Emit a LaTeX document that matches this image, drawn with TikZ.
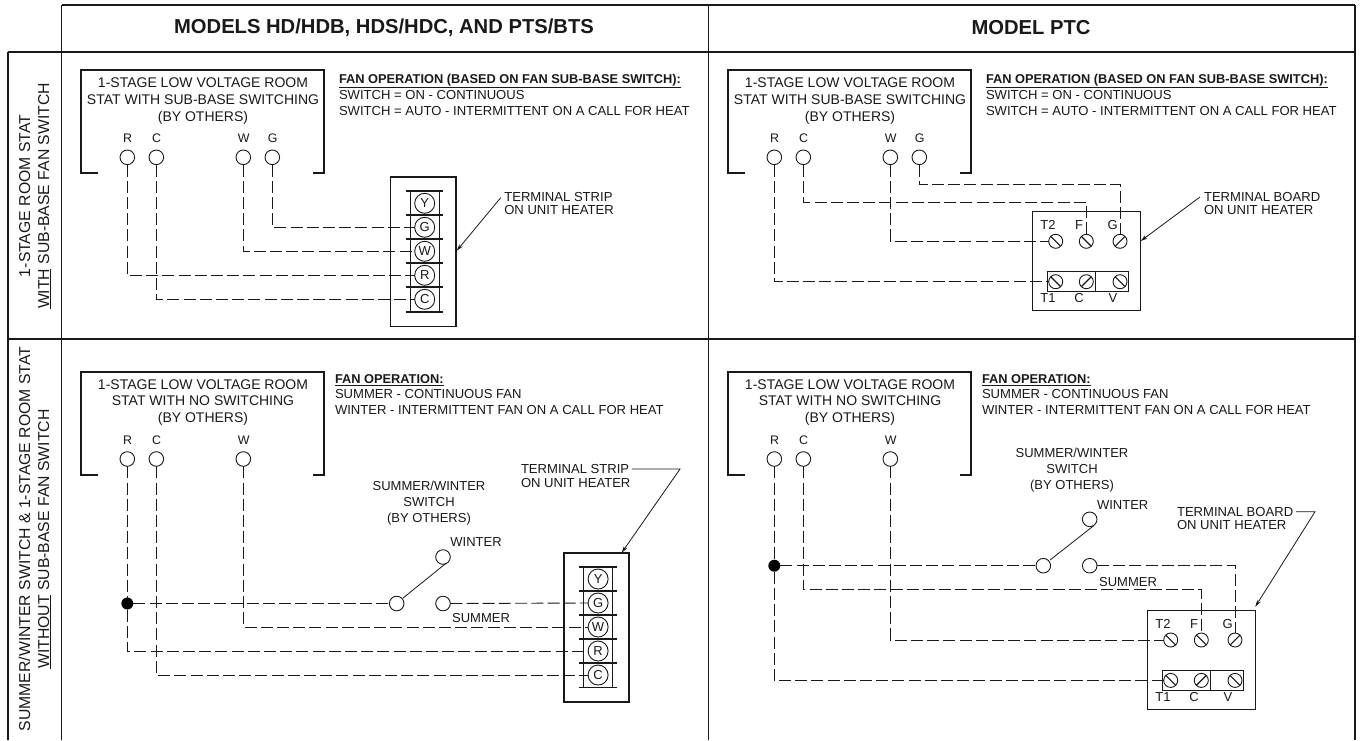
\documentclass[tikz,border=0pt]{standalone}
\usepackage{fontspec}
\setmainfont{Liberation Sans}
\usetikzlibrary{arrows.meta}
\definecolor{ink}{gray}{0.1}
\newcommand{\fanhead}[1]{{\bfseries\fontsize{12.8}{16.1}\selectfont\underline{#1}}}
\tikzset{
 x=1pt,y=-1pt,
 every node/.style={inner sep=0pt,outer sep=0pt,text=ink},
 frameline/.style={draw=ink,line width=1.4pt},
 statbox/.style={draw=ink,line width=1.6pt},
 wire/.style={draw=ink,line width=.9pt,dash pattern=on 12pt off 4.2pt},
 thinline/.style={draw=ink,line width=.8pt},
 slashline/.style={draw=ink,line width=1.1pt},
 lead/.style={draw=ink,line width=.8pt,-{Stealth[length=7pt,width=4pt]}},
 term/.style={circle,draw=ink,line width=.9pt,minimum size=14.6pt,fill=white},
 lbl/.style={font=\fontsize{13}{16}\selectfont,align=center},
 stattext/.style={font=\fontsize{14}{16.7}\selectfont,align=center},
 fan/.style={font=\fontsize{13.07}{16.1}\selectfont,align=left,anchor=west},
 note/.style={font=\fontsize{13.07}{13.5}\selectfont,align=left,anchor=west},
 tiny/.style={font=\fontsize{12.4}{13}\selectfont},
 head/.style={font=\bfseries\fontsize{20.2}{22}\selectfont},
 side/.style={font=\fontsize{15.76}{19}\selectfont,align=center,rotate=90},
 strip/.style={circle,draw=ink,line width=.9pt,minimum size=20pt,fill=white,font=\fontsize{13}{14}\selectfont},
 screw/.style={circle,draw=ink,line width=.9pt,minimum size=14pt},
 dotn/.style={circle,fill=black,minimum size=12pt},
}
\newcommand{\statframe}[4]{\draw[statbox] (#1+17,#4) -- (#1,#4) -- (#1,#2) -- (#3,#2) -- (#3,#4) -- (#3-11,#4);}
% terminal strip: #1 prefix, #2 x left, #3 y top
\newcommand{\stripblock}[3]{%
 \draw[statbox] (#2,#3) rectangle (#2+65.4,#3+149.3);
 \foreach \k in {0,1,2,3,4}{\draw[draw=ink,line width=1.7pt] (#2+15.7,#3+14+24*\k) -- (#2+53,#3+14+24*\k);}
 \draw[draw=ink,line width=1.7pt] (#2+15.7,#3+134.7) -- (#2+53,#3+134.7);
 \draw[thinline] (#2+19.7,#3+14) -- (#2+19.7,#3+134.7);
 \draw[thinline] (#2+49,#3+14) -- (#2+49,#3+134.7);
 \node[strip] (#1Y) at (#2+34.4,#3+26.3) {Y};
 \node[strip] (#1G) at (#2+34.4,#3+50.3) {G};
 \node[strip] (#1W) at (#2+34.4,#3+74.3) {W};
 \node[strip] (#1R) at (#2+34.4,#3+98.3) {R};
 \node[strip] (#1C) at (#2+34.4,#3+122.3) {C};
}
% terminal board: #1 prefix, #2 x left, #3 y top
\newcommand{\boardblock}[3]{%
 \draw[thinline] (#2,#3) rectangle (#2+108.3,#3+99);
 \draw[thinline] (#2+15.3,#3+60.4) rectangle (#2+96,#3+80);
 \draw[thinline] (#2+63.3,#3+60.4) -- (#2+63.3,#3+80);
 \node[screw] (#1T2) at (#2+23.7,#3+30) {};
 \node[screw] (#1F) at (#2+54.3,#3+30) {};
 \node[screw] (#1G) at (#2+88,#3+30) {};
 \node[screw] (#1T1) at (#2+23.7,#3+70.4) {};
 \node[screw] (#1C) at (#2+54.3,#3+70.4) {};
 \node[screw] (#1V) at (#2+88,#3+70.4) {};
 \draw[slashline] (#1T2.north west) -- (#1T2.south east);
 \draw[slashline] (#1F.north west) -- (#1F.south east);
 \draw[slashline] (#1G.south west) -- (#1G.north east);
 \draw[slashline] (#1T1.north west) -- (#1T1.south east);
 \draw[slashline] (#1C.south west) -- (#1C.north east);
 \draw[slashline] (#1V.north west) -- (#1V.south east);
 \node[lbl] (#1LT2) at (#2+16,#3+14) {T2};
 \node[lbl] (#1LF) at (#2+47,#3+14) {F};
 \node[lbl] (#1LG) at (#2+80.7,#3+14) {G};
 \node[lbl] (#1LT1) at (#2+16,#3+87) {T1};
 \node[lbl] (#1LC) at (#2+47,#3+87) {C};
 \node[lbl] (#1LV) at (#2+81,#3+87) {V};
}
% thermostat terminal with letter above: #1 prefix, #2 letter, #3 x, #4 y of circle
\newcommand{\statterm}[4]{%
 \node[term] (#1#2) at (#3,#4) {};
 \node[tiny] (#1L#2) at (#3+.3,#4-19) {#2};
}
\begin{document}
\begin{tikzpicture}
\useasboundingbox (0,0) rectangle (1362,740);
\fill[white] (0,0) rectangle (1362,740);
% grid
\draw[frameline] (8,52) -- (1355,52);
\draw[frameline] (8,339) -- (1355,339);
\draw[frameline] (61.7,5) -- (1355,5);
\draw[frameline] (8,52) -- (8,740);
\draw[frameline] (61.7,5) -- (61.7,740);
\draw[frameline] (708.7,5) -- (708.7,740);
\draw[frameline] (1355,5) -- (1355,740);
\node[head] (h1) at (384,27.5) {MODELS HD/HDB, HDS/HDC, AND PTS/BTS};
\node[head] (h2) at (1031,27.5) {MODEL PTC};
\node[side] (s1) at (35,196) {1-STAGE ROOM STAT\\\underline{WITH} SUB-BASE FAN SWITCH};
\node[side] (s2) at (35,539) {SUMMER/WINTER SWITCH \& 1-STAGE ROOM STAT\\\underline{WITHOUT} SUB-BASE FAN SWITCH};

% ---- cell 1
\statframe{81}{70}{324}{173}
\node[stattext] (ta) at (203,101) {1-STAGE LOW VOLTAGE ROOM\\STAT WITH SUB-BASE SWITCHING\\(BY OTHERS)};
\node[fan] (fa) at (339,95) {\fanhead{FAN OPERATION (BASED ON FAN SUB-BASE SWITCH):}\\SWITCH = ON - CONTINUOUS\\SWITCH = AUTO - INTERMITTENT ON A CALL FOR HEAT};
\statterm{a}{R}{127.3}{157.3}
\statterm{a}{C}{156.3}{157.3}
\statterm{a}{W}{243.3}{157.3}
\statterm{a}{G}{272.3}{157.3}
\stripblock{as}{390.3}{177}
\draw[wire] (aG.south) |- (asG.west);
\draw[wire] (aW.south) |- (asW.west);
\draw[wire] (aR.south) |- (asR.west);
\draw[wire] (aC.south) |- (asC.west);
\node[note] (na) at (504.3,203.5) {TERMINAL STRIP\\ON UNIT HEATER};
\coordinate (pa) at (500.7,197.7);
\coordinate (qa) at (456.7,250.7);
\draw[lead] (pa) -- (qa);

% ---- cell 2
\statframe{728}{70}{971}{173}
\node[stattext] (tb) at (850,101) {1-STAGE LOW VOLTAGE ROOM\\STAT WITH SUB-BASE SWITCHING\\(BY OTHERS)};
\node[fan] (fb) at (986,95) {\fanhead{FAN OPERATION (BASED ON FAN SUB-BASE SWITCH):}\\SWITCH = ON - CONTINUOUS\\SWITCH = AUTO - INTERMITTENT ON A CALL FOR HEAT};
\statterm{b}{R}{774.3}{157.3}
\statterm{b}{C}{803.3}{157.3}
\statterm{b}{W}{890.3}{157.3}
\statterm{b}{G}{919.3}{157.3}
\boardblock{bb}{1032}{211.3}
\coordinate (bk1) at (919.3,184.3);
\coordinate (bk2) at (803.3,202);
\draw[wire] (bG.south) -- (bk1) -| (bbG.north);
\draw[wire] (bC.south) -- (bk2) -| (bbF.north);
\draw[wire] (bW.south) |- (bbT2.west);
\draw[wire] (bR.south) |- (bbT1.west);
\node[note] (nb) at (1204,203.5) {TERMINAL BOARD\\ON UNIT HEATER};
\coordinate (pb) at (1200,197);
\coordinate (qb) at (1140.7,241);
\draw[lead] (pb) -- (qb);

% ---- cell 3
\statframe{81}{372}{324}{475}
\node[stattext] (tc) at (203,402.5) {1-STAGE LOW VOLTAGE ROOM\\STAT WITH NO SWITCHING\\(BY OTHERS)};
\node[fan,font=\fontsize{13.07}{15.2}\selectfont] (fc) at (335,394.5) {\fanhead{FAN OPERATION:}\\SUMMER - CONTINUOUS FAN\\WINTER - INTERMITTENT FAN ON A CALL FOR HEAT};
\statterm{c}{R}{127.3}{459}
\statterm{c}{C}{156.3}{459}
\statterm{c}{W}{243.3}{459}
\stripblock{cs}{563.7}{552.7}
\node[term] (cswL) at (396.7,603.5) {};
\node[term] (cswR) at (443,603.5) {};
\node[term] (cswT) at (443,557) {};
\node[dotn] (cdot) at (127.3,603.5) {};
\coordinate (cl1) at (402.7,598.3);
\coordinate (cl2) at (446,563.3);
\draw[thinline] (cl1) -- (cl2);
\draw[wire] (cR.south) -- (cdot.north);
\draw[wire] (cdot.south) |- (csR.west);
\draw[wire] (cdot.east) -- (cswL.west);
\draw[wire] (cswR.east) -- (csG.west);
\draw[wire] (cW.south) |- (csW.west);
\draw[wire] (cC.south) |- (csC.west);
\node[lbl] (kc) at (429,503.3) {SUMMER/WINTER\\SWITCH\\(BY OTHERS)};
\node[lbl] (wc) at (476,542.3) {WINTER};
\node[lbl] (uc) at (481,618.3) {SUMMER};
\node[note] (nc) at (521,476) {TERMINAL STRIP\\ON UNIT HEATER};
\coordinate (pc0) at (632,469);
\coordinate (pc1) at (680,469);
\coordinate (qc) at (621.7,552.7);
\draw[lead] (pc0) -- (pc1) -- (qc);

% ---- cell 4
\statframe{728}{372}{971}{475}
\node[stattext] (td) at (850,402.5) {1-STAGE LOW VOLTAGE ROOM\\STAT WITH NO SWITCHING\\(BY OTHERS)};
\node[fan,font=\fontsize{13.07}{15.2}\selectfont] (fd) at (982,394.5) {\fanhead{FAN OPERATION:}\\SUMMER - CONTINUOUS FAN\\WINTER - INTERMITTENT FAN ON A CALL FOR HEAT};
\statterm{d}{R}{774.3}{459}
\statterm{d}{C}{803.3}{459}
\statterm{d}{W}{890.3}{459}
\boardblock{db}{1147}{610}
\node[term] (dswL) at (1043.3,565.7) {};
\node[term] (dswR) at (1089.7,565.7) {};
\node[term] (dswT) at (1089.7,519.3) {};
\node[dotn] (ddot) at (774.3,565.7) {};
\coordinate (dl1) at (1050,560);
\coordinate (dl2) at (1093.3,526);
\draw[thinline] (dl1) -- (dl2);
\coordinate (dk1) at (803.3,589.7);
\draw[wire] (dR.south) -- (ddot.north);
\draw[wire] (ddot.south) |- (dbT1.west);
\draw[wire] (ddot.east) -- (dswL.west);
\draw[wire] (dswR.east) -| (dbG.north);
\draw[wire] (dC.south) -- (dk1) -| (dbF.north);
\draw[wire] (dW.south) |- (dbT2.west);
\node[lbl] (kd) at (1072,470) {SUMMER/WINTER\\SWITCH\\(BY OTHERS)};
\node[lbl] (wd) at (1122.7,505.3) {WINTER};
\node[lbl] (ud) at (1128,581.7) {SUMMER};
\node[note] (nd) at (1177,518.5) {TERMINAL BOARD\\ON UNIT HEATER};
\coordinate (pd0) at (1296,511.7);
\coordinate (pd1) at (1315,511.7);
\coordinate (qd) at (1255.3,606.7);
\draw[lead] (pd0) -- (pd1) -- (qd);
\end{tikzpicture}
\end{document}
